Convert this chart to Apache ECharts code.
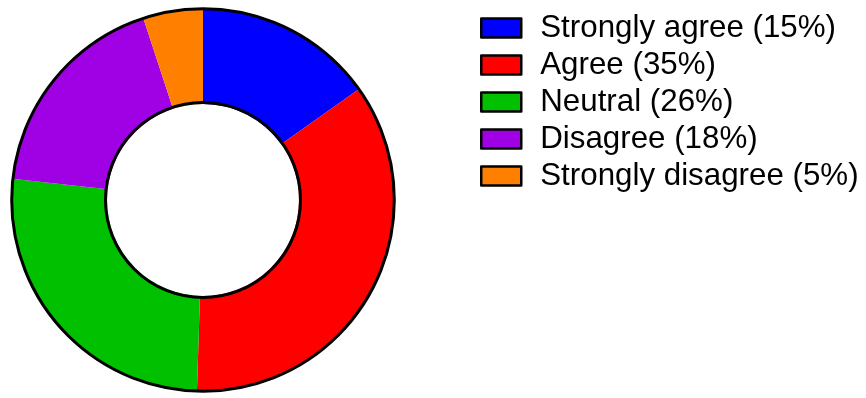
<!DOCTYPE html>
<html>
<head>
<meta charset="utf-8">
<script src="https://cdn.jsdelivr.net/npm/echarts@6/dist/echarts.min.js"></script>
<style>
  html, body { margin: 0; padding: 0; background: #fff; }
  #chart { width: 866px; height: 398px; }
</style>
</head>
<body>
<div id="chart"></div>
<script>
// Survey response shares (percent)
const categories = ['Strongly agree', 'Agree', 'Neutral', 'Disagree', 'Strongly disagree'];
const shares = [15, 35, 26, 18, 5];
const colors = ['#0000FF', '#FF0000', '#00C000', '#A000E4', '#FF8000'];

const chart = echarts.init(document.getElementById('chart'), null, { renderer: 'canvas' });

const sliceData = categories.map((name, i) => ({
  name: name,
  value: shares[i],
  itemStyle: { color: colors[i] }
}));

chart.setOption({
  animation: false,
  backgroundColor: '#ffffff',
  legend: {
    orient: 'vertical',
    left: 475,
    top: 7,
    data: categories,
    icon: 'rect',
    itemWidth: 40,
    itemHeight: 19,
    itemGap: 5,
    selectedMode: false,
    itemStyle: { borderColor: '#000', borderWidth: 2.5 },
    formatter: function (name) {
      const i = categories.indexOf(name);
      return name + ' (' + shares[i] + '%)';
    },
    textStyle: {
      fontFamily: 'Liberation Sans, Arial, sans-serif',
      fontSize: 31.3,
      lineHeight: 32,
      color: '#000',
      padding: [0, 0, 0, 14]
    }
  },
  series: [
    {
      type: 'pie',
      center: [203, 200],
      radius: [96, 192],
      startAngle: 90,
      clockwise: true,
      silent: true,
      label: { show: false },
      labelLine: { show: false },
      emphasis: { disabled: true },
      itemStyle: { borderWidth: 0 },
      data: sliceData
    },
    {
      // outline rings around the donut
      type: 'pie',
      center: [203, 200],
      radius: [97.5, 191.3],
      silent: true,
      label: { show: false },
      labelLine: { show: false },
      emphasis: { disabled: true },
      itemStyle: { color: 'rgba(0,0,0,0)', borderColor: '#000', borderWidth: 3 },
      data: [{ name: 'ring', value: 1 }]
    }
  ]
});
</script>
</body>
</html>
